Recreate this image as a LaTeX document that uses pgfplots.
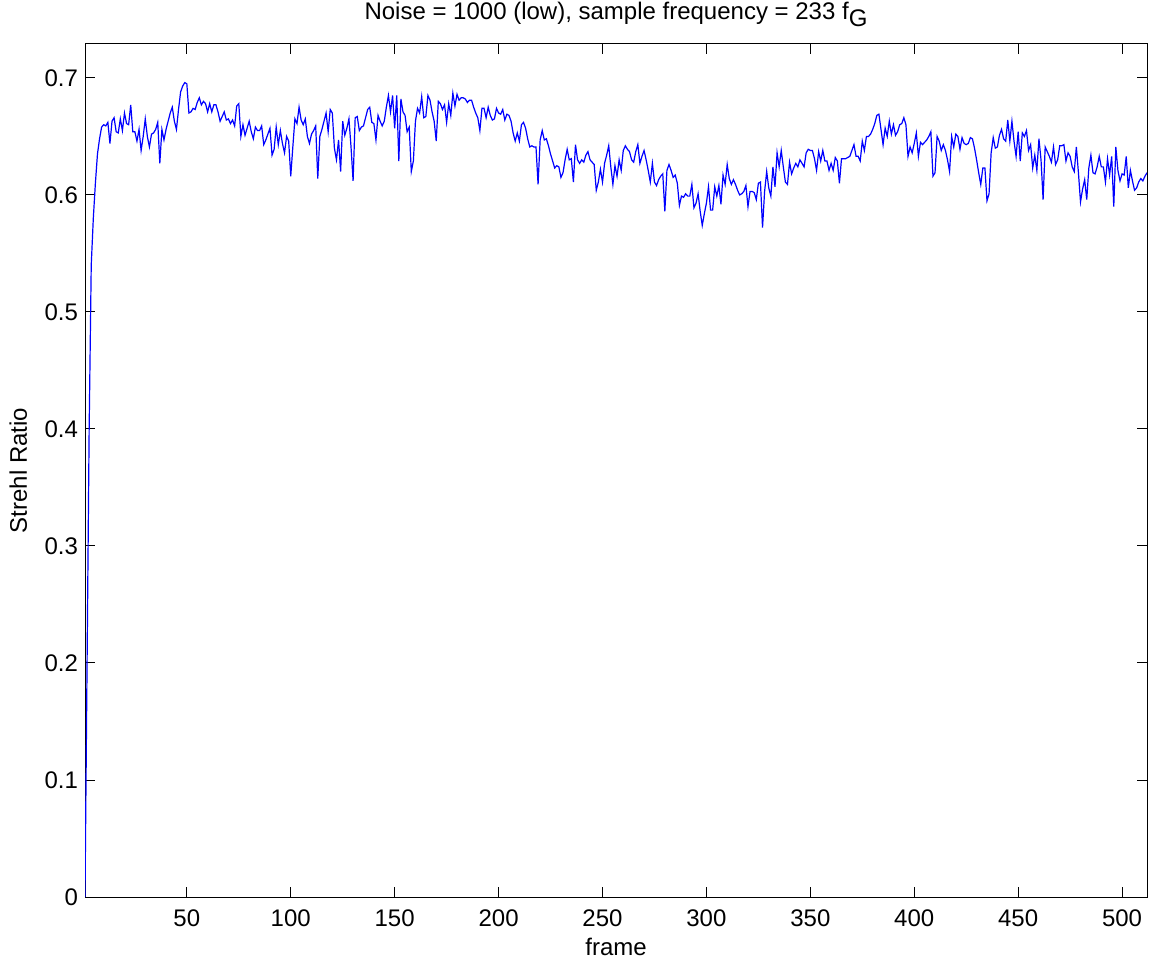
\documentclass[border=0pt]{standalone}
\usepackage{pgfplots}
\pgfplotsset{compat=1.18}
\usepackage{fontspec}
\setmainfont{Liberation Sans}
\begin{document}
\fontsize{12}{14}\selectfont
\begin{tikzpicture}
\begin{axis}[
  at={(0,0)}, anchor=south west,
  scale only axis, width=531pt, height=426.5pt,
  xmin=1, xmax=512, ymin=0, ymax=0.729,
  xtick={50,100,...,500}, ytick={0,0.1,...,0.7},
  tick align=inside, major tick length=5pt,
  xtick pos=both, ytick pos=both,
  axis line style={line width=0.5pt}, every tick/.style={black, line width=0.5pt},
  /pgf/number format/assume math mode=true,
  yticklabel style={/pgf/number format/fixed, /pgf/number format/precision=1, anchor=east, inner sep=0pt, xshift=-3.3pt},
  xticklabel style={anchor=base, inner sep=0pt, yshift=-14.5pt},
  scaled y ticks=false,
  tick label style={font=\fontsize{12}{14}\selectfont},
  xlabel={frame}, ylabel={Strehl Ratio},
  xlabel style={at={(axis description cs:0.5,0)}, anchor=base, inner sep=0pt, yshift=-29pt, font=\fontsize{12}{14}\selectfont},
  ylabel style={at={(axis description cs:0,0.5)}, rotate=0, anchor=base, inner sep=0pt, yshift=29pt, font=\fontsize{12}{14}\selectfont},
  title={Noise = 1000 (low), sample frequency = 233 f\raisebox{-0.55ex}{G}},
  title style={at={(axis description cs:0.5,1)}, anchor=base, inner sep=0pt, yshift=6pt, font=\fontsize{12}{14}\selectfont},
]
\addplot[color=blue, line width=0.6pt] coordinates {
(1,0) (2,0.20) (3,0.40) (4,0.54) (5,0.58) (6,0.61) (7,0.635) (8,0.648) (9,0.658) (10,0.660)
(11,0.659) (12,0.662) (13,0.644) (14,0.663) (15,0.666) (16,0.654) (17,0.653) (18,0.665) (19,0.655) (20,0.670)
(21,0.661) (22,0.660) (23,0.677) (24,0.654) (25,0.654) (26,0.646) (27,0.656) (28,0.638) (29,0.650) (30,0.665)
(31,0.650) (32,0.641) (33,0.652) (34,0.653) (35,0.656) (36,0.662) (37,0.627) (38,0.656) (39,0.647) (40,0.656)
(41,0.663) (42,0.670) (43,0.675) (44,0.663) (45,0.656) (46,0.673) (47,0.688) (48,0.693) (49,0.696) (50,0.695)
(51,0.670) (52,0.671) (53,0.674) (54,0.673) (55,0.679) (56,0.683) (57,0.677) (58,0.680) (59,0.678) (60,0.671)
(61,0.678) (62,0.671) (63,0.677) (64,0.677) (65,0.671) (66,0.663) (67,0.667) (68,0.671) (69,0.664) (70,0.665)
(71,0.661) (72,0.664) (73,0.659) (74,0.676) (75,0.678) (76,0.650) (77,0.660) (78,0.651) (79,0.657) (80,0.663)
(81,0.654) (82,0.648) (83,0.658) (84,0.655) (85,0.655) (86,0.659) (87,0.643) (88,0.647) (89,0.652) (90,0.657)
(91,0.634) (92,0.639) (93,0.658) (94,0.643) (95,0.655) (96,0.644) (97,0.636) (98,0.650) (99,0.646) (100,0.616)
(101,0.641) (102,0.665) (103,0.661) (104,0.675) (105,0.664) (106,0.660) (107,0.665) (108,0.650) (109,0.644) (110,0.652)
(111,0.655) (112,0.659) (113,0.614) (114,0.650) (115,0.656) (116,0.663) (117,0.670) (118,0.654) (119,0.673) (120,0.670)
(121,0.640) (122,0.630) (123,0.647) (124,0.620) (125,0.663) (126,0.651) (127,0.657) (128,0.665) (129,0.641) (130,0.612)
(131,0.666) (132,0.667) (133,0.655) (134,0.658) (135,0.659) (136,0.666) (137,0.673) (138,0.675) (139,0.662) (140,0.661)
(141,0.647) (142,0.668) (143,0.663) (144,0.659) (145,0.663) (146,0.675) (147,0.685) (148,0.671) (149,0.685) (150,0.657)
(151,0.685) (152,0.629) (153,0.682) (154,0.671) (155,0.668) (156,0.654) (157,0.658) (158,0.620) (159,0.629) (160,0.663)
(161,0.674) (162,0.670) (163,0.684) (164,0.666) (165,0.667) (166,0.685) (167,0.681) (168,0.671) (169,0.663) (170,0.646)
(171,0.680) (172,0.678) (173,0.673) (174,0.677) (175,0.662) (176,0.678) (177,0.668) (178,0.687) (179,0.676) (180,0.686)
(181,0.681) (182,0.683) (183,0.683) (184,0.682) (185,0.679) (186,0.681) (187,0.681) (188,0.675) (189,0.670) (190,0.666)
(191,0.655) (192,0.674) (193,0.674) (194,0.666) (195,0.675) (196,0.668) (197,0.664) (198,0.665) (199,0.674) (200,0.670)
(201,0.669) (202,0.673) (203,0.664) (204,0.669) (205,0.668) (206,0.663) (207,0.653) (208,0.646) (209,0.653) (210,0.646)
(211,0.660) (212,0.662) (213,0.657) (214,0.648) (215,0.641) (216,0.642) (217,0.641) (218,0.641) (219,0.609) (220,0.647)
(221,0.655) (222,0.647) (223,0.648) (224,0.642) (225,0.635) (226,0.629) (227,0.623) (228,0.625) (229,0.624) (230,0.615)
(231,0.619) (232,0.630) (233,0.639) (234,0.630) (235,0.631) (236,0.611) (237,0.643) (238,0.630) (239,0.627) (240,0.630)
(241,0.628) (242,0.634) (243,0.637) (244,0.630) (245,0.628) (246,0.626) (247,0.604) (248,0.611) (249,0.622) (250,0.611)
(251,0.627) (252,0.634) (253,0.642) (254,0.624) (255,0.609) (256,0.625) (257,0.616) (258,0.630) (259,0.621) (260,0.638)
(261,0.642) (262,0.639) (263,0.637) (264,0.630) (265,0.628) (266,0.637) (267,0.643) (268,0.627) (269,0.633) (270,0.638)
(271,0.630) (272,0.621) (273,0.611) (274,0.627) (275,0.611) (276,0.608) (277,0.613) (278,0.616) (279,0.618) (280,0.586)
(281,0.621) (282,0.626) (283,0.621) (284,0.615) (285,0.617) (286,0.610) (287,0.591) (288,0.599) (289,0.598) (290,0.601)
(291,0.599) (292,0.599) (293,0.609) (294,0.589) (295,0.593) (296,0.601) (297,0.586) (298,0.574) (299,0.584) (300,0.593)
(301,0.607) (302,0.587) (303,0.587) (304,0.607) (305,0.599) (306,0.608) (307,0.592) (308,0.617) (309,0.609) (310,0.626)
(311,0.614) (312,0.609) (313,0.613) (314,0.609) (315,0.604) (316,0.600) (317,0.601) (318,0.603) (319,0.608) (320,0.590)
(321,0.603) (322,0.603) (323,0.602) (324,0.596) (325,0.610) (326,0.611) (327,0.572) (328,0.603) (329,0.620) (330,0.606)
(331,0.599) (332,0.624) (333,0.607) (334,0.636) (335,0.624) (336,0.638) (337,0.624) (338,0.611) (339,0.609) (340,0.628)
(341,0.618) (342,0.623) (343,0.627) (344,0.624) (345,0.630) (346,0.627) (347,0.624) (348,0.636) (349,0.639) (350,0.638)
(351,0.638) (352,0.631) (353,0.621) (354,0.637) (355,0.629) (356,0.638) (357,0.629) (358,0.629) (359,0.621) (360,0.627)
(361,0.621) (362,0.632) (363,0.629) (364,0.610) (365,0.631) (366,0.631) (367,0.631) (368,0.632) (369,0.633) (370,0.638)
(371,0.643) (372,0.633) (373,0.633) (374,0.629) (375,0.646) (376,0.638) (377,0.650) (378,0.650) (379,0.652) (380,0.656)
(381,0.661) (382,0.668) (383,0.669) (384,0.656) (385,0.643) (386,0.657) (387,0.650) (388,0.663) (389,0.652) (390,0.660)
(391,0.651) (392,0.654) (393,0.660) (394,0.661) (395,0.666) (396,0.660) (397,0.633) (398,0.641) (399,0.636) (400,0.644)
(401,0.653) (402,0.633) (403,0.645) (404,0.643) (405,0.645) (406,0.647) (407,0.650) (408,0.654) (409,0.616) (410,0.619)
(411,0.650) (412,0.646) (413,0.638) (414,0.643) (415,0.638) (416,0.630) (417,0.620) (418,0.650) (419,0.641) (420,0.652)
(421,0.650) (422,0.639) (423,0.649) (424,0.644) (425,0.643) (426,0.644) (427,0.649) (428,0.648) (429,0.640) (430,0.630)
(431,0.619) (432,0.609) (433,0.623) (434,0.623) (435,0.595) (436,0.601) (437,0.636) (438,0.649) (439,0.640) (440,0.641)
(441,0.651) (442,0.656) (443,0.648) (444,0.646) (445,0.664) (446,0.646) (447,0.663) (448,0.646) (449,0.633) (450,0.654)
(451,0.629) (452,0.653) (453,0.650) (454,0.655) (455,0.638) (456,0.643) (457,0.623) (458,0.634) (459,0.621) (460,0.648)
(461,0.630) (462,0.596) (463,0.641) (464,0.637) (465,0.633) (466,0.628) (467,0.641) (468,0.626) (469,0.630) (470,0.642)
(471,0.642) (472,0.643) (473,0.629) (474,0.636) (475,0.633) (476,0.624) (477,0.620) (478,0.641) (479,0.619) (480,0.594)
(481,0.605) (482,0.613) (483,0.596) (484,0.623) (485,0.634) (486,0.619) (487,0.618) (488,0.624) (489,0.633) (490,0.624)
(491,0.624) (492,0.611) (493,0.631) (494,0.617) (495,0.633) (496,0.590) (497,0.641) (498,0.621) (499,0.612) (500,0.618)
(501,0.617) (502,0.633) (503,0.606) (504,0.621) (505,0.612) (506,0.604) (507,0.606) (508,0.611) (509,0.614) (510,0.612)
(511,0.616) (512,0.619)
};
\end{axis}
\pgfresetboundingbox
\path (-42.5pt,-31.5pt) rectangle (534.5pt,448.5pt);
\end{tikzpicture}
\end{document}
